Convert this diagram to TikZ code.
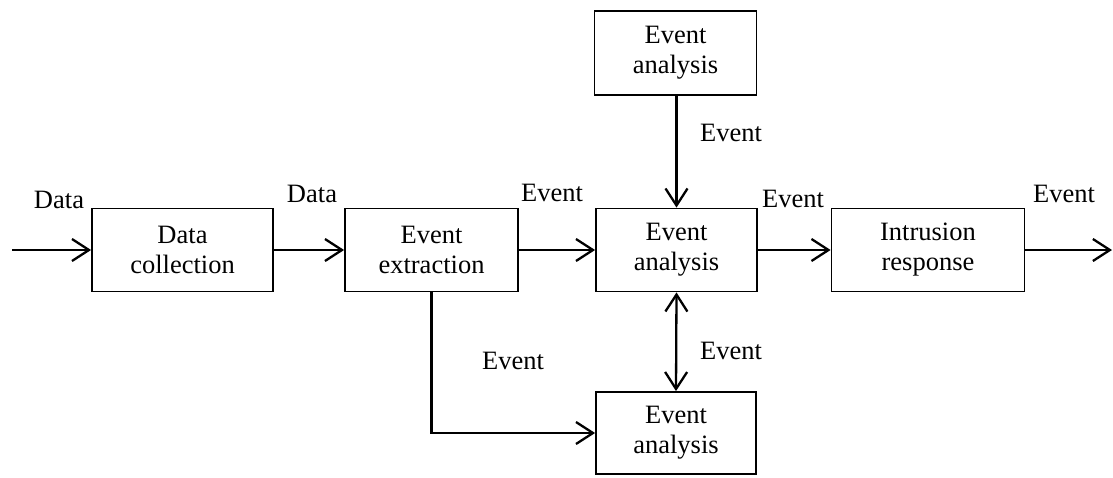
\documentclass[tikz,border=0pt]{standalone}
\usepackage{fontspec}
\setmainfont{Liberation Serif}
\usetikzlibrary{arrows.meta}
\begin{document}
\begin{tikzpicture}[x=1pt,y=-1pt,
  font=\fontsize{26.5}{30}\selectfont,
  blk/.style={draw,line width=1.8pt,minimum height=83pt,align=center,inner sep=0pt},
  tip/.style={Straight Barb[length=17pt,width=22pt,line width=2.3pt]},
  conn/.style={line width=2.3pt,-{Straight Barb[length=17pt,width=22pt,line width=2.3pt]}},
  biconn/.style={line width=2.3pt,{Straight Barb[length=17pt,width=22pt,line width=2.3pt]}-{Straight Barb[length=17pt,width=22pt,line width=2.3pt]}},
  lbl/.style={inner sep=0pt}]
\useasboundingbox (0,0) rectangle (1113,477);
\node[blk,minimum width=181pt] (dc) at (182.5,250) {Data\\collection};
\node[blk,minimum width=173pt] (ee) at (431.5,250) {Event\\extraction};
\node[blk,minimum width=161pt] (ea) at (676.5,250) {Event\\analysis};
\node[blk,minimum width=162pt,minimum height=84pt] (eat) at (675.5,53) {Event\\analysis};
\node[blk,minimum width=160pt,minimum height=82pt] (eab) at (676,433) {Event\\analysis};
\node[blk,minimum width=193pt] (ir) at (928,250) {Intrusion\\response};
\coordinate (in) at (12,250);
\coordinate (out) at (1112,250);
\draw[conn] (in) -- (dc);
\draw[conn] (dc) -- (ee);
\draw[conn] (ee) -- (ea);
\draw[conn] (ea) -- (ir);
\draw[conn] (ir) -- (out);
\draw[conn] (eat.south -| ea.north) -- (ea.north);
\draw[biconn] (ea.south) -- (eab.north);
\draw[conn] (ee.south) |- (eab.west);
\node[lbl] (l1) at (59,200) {Data};
\node[lbl] (l2) at (312,194) {Data};
\node[lbl] (l3) at (552,193) {Event};
\node[lbl] (l4) at (793,199) {Event};
\node[lbl] (l5) at (1064,194) {Event};
\node[lbl] (l6) at (731,133) {Event};
\node[lbl] (l7) at (731,351) {Event};
\node[lbl] (l8) at (513,361) {Event};
\end{tikzpicture}
\end{document}
